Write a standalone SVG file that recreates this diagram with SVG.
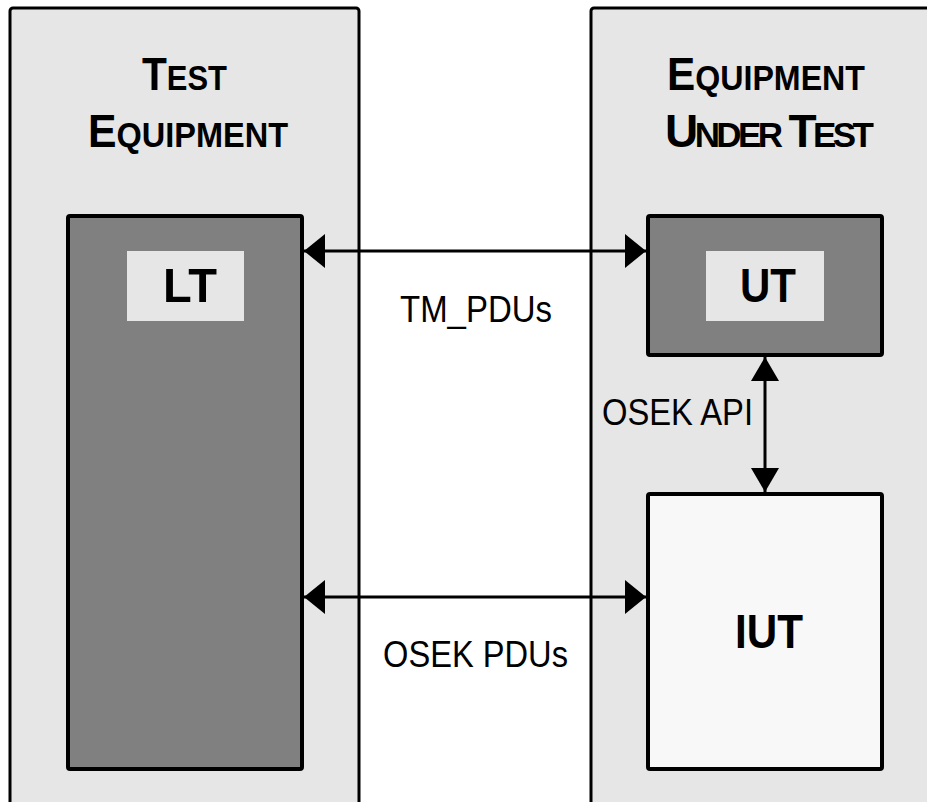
<svg xmlns="http://www.w3.org/2000/svg" width="927" height="802" viewBox="0 0 927 802">
<style>
.panel{fill:#e6e6e6;stroke:#000;stroke-width:3}
.dark{fill:#808080;stroke:#000;stroke-width:4}
.light{fill:#f8f8f8;stroke:#000;stroke-width:4}
.lbl{fill:#e6e6e6}
.title{font-family:"Liberation Sans",Arial,sans-serif;font-weight:bold;font-size:46px;fill:#000}
.sc{font-size:35px}
.box{font-family:"Liberation Sans",Arial,sans-serif;font-weight:bold;font-size:49px;fill:#000;text-anchor:middle}
.edge{font-family:"Liberation Sans",Arial,sans-serif;font-size:37px;fill:#000}
.line{stroke:#000;stroke-width:3;fill:none}
</style>
<defs>
<marker id="ah" viewBox="0 0 21 34" refX="21" refY="17" markerWidth="21" markerHeight="34" markerUnits="userSpaceOnUse" orient="auto-start-reverse">
<path d="M0,0 L21,17 L0,34 Z" fill="#000"/>
</marker>
<marker id="av" viewBox="0 0 24 28" refX="24" refY="14" markerWidth="24" markerHeight="28" markerUnits="userSpaceOnUse" orient="auto-start-reverse">
<path d="M0,0 L24,14 L0,28 Z" fill="#000"/>
</marker>
</defs>
<g id="test-equipment">
<rect class="panel" x="10" y="8" width="349" height="810" rx="3"/>
<text class="title" x="142" y="90" textLength="85" lengthAdjust="spacingAndGlyphs">T<tspan class="sc">EST</tspan></text>
<text class="title" x="88" y="147" textLength="200" lengthAdjust="spacingAndGlyphs">E<tspan class="sc">QUIPMENT</tspan></text>
</g>
<g id="equipment-under-test">
<rect class="panel" x="591" y="8" width="360" height="810" rx="3"/>
<text class="title" x="667" y="90" textLength="198" lengthAdjust="spacingAndGlyphs">E<tspan class="sc">QUIPMENT</tspan></text>
<text class="title" x="665" y="147" letter-spacing="-3.6">U<tspan class="sc">NDER</tspan> T<tspan class="sc">EST</tspan></text>
</g>
<g id="LT">
<rect class="dark" x="68" y="216" width="234" height="553" rx="2"/>
<rect class="lbl" x="127" y="251" width="117" height="70"/>
<text class="box" x="190" y="302" textLength="54" lengthAdjust="spacingAndGlyphs">LT</text>
</g>
<g id="UT">
<rect class="dark" x="648" y="216" width="234" height="139" rx="2"/>
<rect class="lbl" x="706" y="251" width="118" height="70"/>
<text class="box" x="768" y="302" textLength="56" lengthAdjust="spacingAndGlyphs">UT</text>
</g>
<g id="IUT">
<rect class="light" x="648" y="494" width="234" height="275" rx="2"/>
<text class="box" x="769" y="648" textLength="68" lengthAdjust="spacingAndGlyphs">IUT</text>
</g>
<g id="connectors">
<line class="line" x1="304" y1="251" x2="646" y2="251" marker-start="url(#ah)" marker-end="url(#ah)"/>
<line class="line" x1="304" y1="597" x2="646" y2="597" marker-start="url(#ah)" marker-end="url(#ah)"/>
<line class="line" x1="765" y1="357" x2="765" y2="492" marker-start="url(#av)" marker-end="url(#av)"/>
<text class="edge" x="400" y="322" textLength="152" lengthAdjust="spacingAndGlyphs">TM_PDUs</text>
<text class="edge" x="383" y="667" textLength="185" lengthAdjust="spacingAndGlyphs">OSEK PDUs</text>
<text class="edge" x="602" y="425" textLength="151" lengthAdjust="spacingAndGlyphs">OSEK API</text>
</g>
</svg>
